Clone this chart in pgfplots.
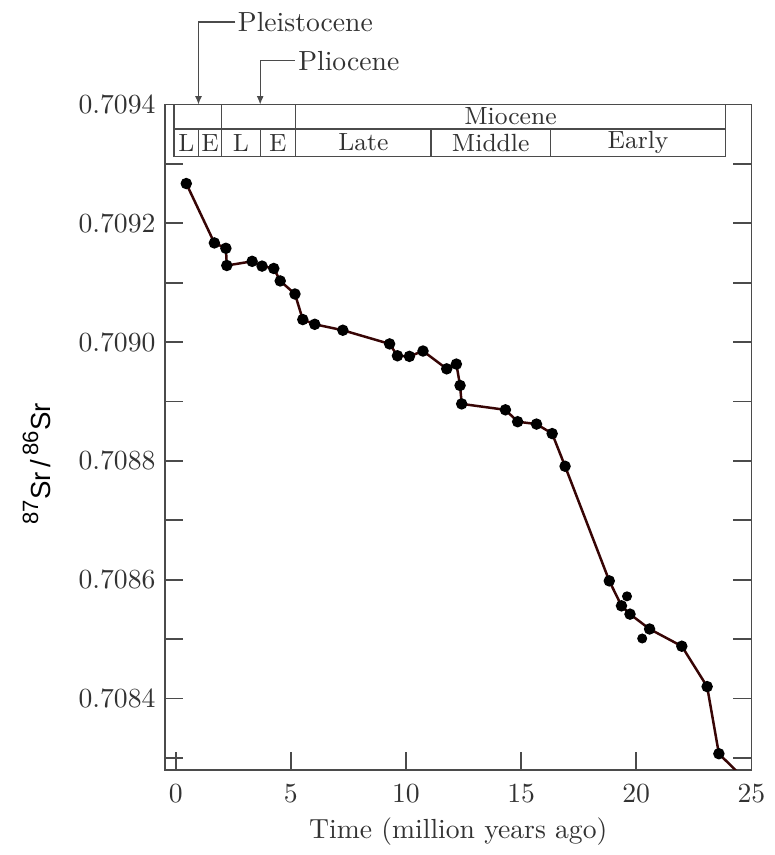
\documentclass[border=0pt]{standalone}
\usepackage{fontspec}
\usepackage{pgfplots}
\pgfplotsset{compat=1.18}
\usetikzlibrary{arrows.meta}
\newfontfamily\arial{Liberation Sans}
\definecolor{srline}{RGB}{55,5,5}
\definecolor{frame}{RGB}{75,75,75}
\definecolor{txt}{RGB}{50,50,50}
\tikzset{hdr/.style={frame, line width=0.5pt}}

\begin{document}
\begin{tikzpicture}
\begin{axis}[
    scale only axis,
    width=212pt, height=240.6pt,
    xmin=-0.455, xmax=25,
    ymin=0.70828, ymax=0.7094,
    clip mode=individual,
    axis line style={frame, line width=0.6pt},
    xtick={0,5,10,15,20,25},
    xtick pos=bottom,
    ytick={0.7084,0.7086,0.7088,0.7090,0.7092,0.7094},
    minor ytick={0.7083,0.7085,0.7087,0.7089,0.7091,0.7093},
    ytick pos=both, yticklabel pos=left,
    tick align=inside,
    major tick length=6.5pt, minor tick length=6.5pt,
    tick style={frame, line width=0.6pt},
    scaled y ticks=false,
    y tick label style={text=txt, /pgf/number format/.cd, fixed, fixed zerofill, precision=4, /tikz/.cd},
    x tick label style={text=txt, yshift=-2pt},
    xlabel={Time (million years ago)},
    xlabel style={text=txt, at={(axis description cs:0.5,0)}, anchor=center, yshift=-22.5pt},
    ylabel={{\arial\raisebox{0.45em}{\footnotesize 87}Sr\,/\,\raisebox{0.45em}{\footnotesize 86}Sr}},
    ylabel style={text=black, at={(axis description cs:-0.219,0.46)}, anchor=center},
]

% epoch header
\draw[hdr] (axis cs:-0.07,0.7094) rectangle (axis cs:23.87,0.709313);
\draw[hdr] (axis cs:-0.07,0.709359) -- (axis cs:23.87,0.709359);
\draw[hdr] (axis cs:1.99,0.7094) -- (axis cs:1.99,0.709313);
\draw[hdr] (axis cs:5.21,0.7094) -- (axis cs:5.21,0.709313);
\draw[hdr] (axis cs:0.99,0.709359) -- (axis cs:0.99,0.709313);
\draw[hdr] (axis cs:3.67,0.709359) -- (axis cs:3.67,0.709313);
\draw[hdr] (axis cs:11.08,0.709359) -- (axis cs:11.08,0.709313);
\draw[hdr] (axis cs:16.28,0.709359) -- (axis cs:16.28,0.709313);
\node[text=txt, font=\small] at (axis cs:14.54,0.70938) {Miocene};
\node[text=txt, font=\small] at (axis cs:0.46,0.709336) {L};
\node[text=txt, font=\small] at (axis cs:1.49,0.709336) {E};
\node[text=txt, font=\small] at (axis cs:2.83,0.709336) {L};
\node[text=txt, font=\small] at (axis cs:4.44,0.709336) {E};
\node[text=txt, font=\small] at (axis cs:8.15,0.709336) {Late};
\node[text=txt, font=\small] at (axis cs:13.68,0.709336) {Middle};
\node[text=txt, font=\small] at (axis cs:20.08,0.709336) {Early};

% epoch pointers
\draw[hdr, -{Latex[length=3pt,width=2.5pt]}] (axis cs:2.59,0.709539) -- (axis cs:0.99,0.709539) -- (axis cs:0.99,0.7094);
\node[text=txt, anchor=west, inner sep=0pt] at (axis cs:2.68,0.709539) {Pleistocene};
\draw[hdr, -{Latex[length=3pt,width=2.5pt]}] (axis cs:5.17,0.709474) -- (axis cs:3.67,0.709474) -- (axis cs:3.67,0.7094);
\node[text=txt, anchor=west, inner sep=0pt] at (axis cs:5.30,0.709474) {Pliocene};

% seawater Sr curve
\addplot[srline, line width=0.9pt, mark=*, mark size=1.6pt, mark options={black}] coordinates {
    (0.46,0.709267) (1.68,0.709167) (2.18,0.709158) (2.22,0.709129)
    (3.32,0.709136) (3.75,0.709128) (4.26,0.709124) (4.54,0.709103)
    (5.18,0.709081) (5.52,0.709038) (6.04,0.709030) (7.26,0.709020)
    (9.29,0.708997) (9.63,0.708977) (10.15,0.708976) (10.74,0.708985)
    (11.77,0.708955) (12.19,0.708963) (12.35,0.708927) (12.42,0.708896)
    (14.32,0.708886) (14.85,0.708866) (15.67,0.708862) (16.35,0.708846)
    (16.91,0.708791) (18.83,0.708598) (19.36,0.708556) (19.73,0.708542)
    (20.58,0.708517) (21.98,0.708488) (23.08,0.708420) (23.59,0.708307)
    (25.0,0.708253)
};
\addplot[only marks, mark=*, mark size=1.6pt, black] coordinates {
    (19.6,0.708572) (20.26,0.708501)
};

% page extent
\path (axis cs:-7.63,0.709576) rectangle (axis cs:25.79,0.708147);
\end{axis}
\end{tikzpicture}
\end{document}
